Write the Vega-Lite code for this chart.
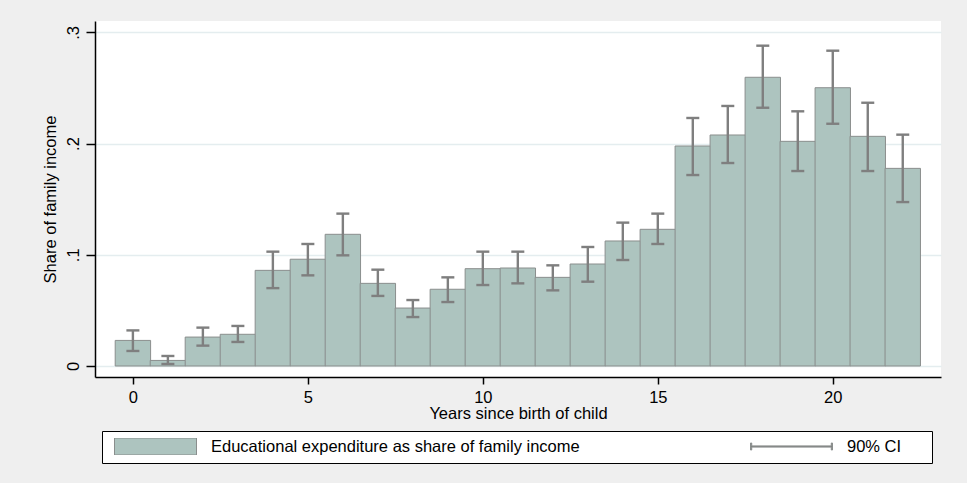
{
  "$schema": "https://vega.github.io/schema/vega-lite/v6.json",
  "width": 846,
  "height": 356,
  "autosize": {"type": "none"},
  "padding": {"left": 95, "top": 21, "right": 26, "bottom": 106},
  "background": "#efefef",
  "config": {
    "view": {"fill": "white", "stroke": null},
    "font": "Liberation Sans",
    "axis": {
      "labelFont": "Liberation Sans",
      "titleFont": "Liberation Sans",
      "labelFontSize": 16.5,
      "titleFontSize": 16.5,
      "labelColor": "#000000",
      "titleColor": "#000000",
      "titleFontWeight": "normal",
      "domainColor": "#000000",
      "domainWidth": 1.5,
      "tickColor": "#000000",
      "tickWidth": 1.5
    }
  },
  "data": {
    "values": [
      {"year": 0, "share": 0.023, "lo": 0.0135, "hi": 0.032, "series": "Educational expenditure as share of family income"},
      {"year": 1, "share": 0.005, "lo": 0.0018, "hi": 0.009, "series": "Educational expenditure as share of family income"},
      {"year": 2, "share": 0.026, "lo": 0.0183, "hi": 0.0345, "series": "Educational expenditure as share of family income"},
      {"year": 3, "share": 0.0285, "lo": 0.0216, "hi": 0.036, "series": "Educational expenditure as share of family income"},
      {"year": 4, "share": 0.086, "lo": 0.070, "hi": 0.1028, "series": "Educational expenditure as share of family income"},
      {"year": 5, "share": 0.096, "lo": 0.0815, "hi": 0.1097, "series": "Educational expenditure as share of family income"},
      {"year": 6, "share": 0.1184, "lo": 0.0995, "hi": 0.137, "series": "Educational expenditure as share of family income"},
      {"year": 7, "share": 0.0743, "lo": 0.063, "hi": 0.0866, "series": "Educational expenditure as share of family income"},
      {"year": 8, "share": 0.0521, "lo": 0.044, "hi": 0.0593, "series": "Educational expenditure as share of family income"},
      {"year": 9, "share": 0.069, "lo": 0.0575, "hi": 0.0797, "series": "Educational expenditure as share of family income"},
      {"year": 10, "share": 0.0875, "lo": 0.0728, "hi": 0.1028, "series": "Educational expenditure as share of family income"},
      {"year": 11, "share": 0.0881, "lo": 0.0743, "hi": 0.1028, "series": "Educational expenditure as share of family income"},
      {"year": 12, "share": 0.0797, "lo": 0.068, "hi": 0.0905, "series": "Educational expenditure as share of family income"},
      {"year": 13, "share": 0.0917, "lo": 0.0758, "hi": 0.107, "series": "Educational expenditure as share of family income"},
      {"year": 14, "share": 0.1124, "lo": 0.0953, "hi": 0.1289, "series": "Educational expenditure as share of family income"},
      {"year": 15, "share": 0.1229, "lo": 0.1097, "hi": 0.137, "series": "Educational expenditure as share of family income"},
      {"year": 16, "share": 0.1978, "lo": 0.1717, "hi": 0.223, "series": "Educational expenditure as share of family income"},
      {"year": 17, "share": 0.2077, "lo": 0.1825, "hi": 0.2338, "series": "Educational expenditure as share of family income"},
      {"year": 18, "share": 0.2596, "lo": 0.2322, "hi": 0.288, "series": "Educational expenditure as share of family income"},
      {"year": 19, "share": 0.202, "lo": 0.1753, "hi": 0.229, "series": "Educational expenditure as share of family income"},
      {"year": 20, "share": 0.2502, "lo": 0.2178, "hi": 0.2835, "series": "Educational expenditure as share of family income"},
      {"year": 21, "share": 0.2065, "lo": 0.1753, "hi": 0.2367, "series": "Educational expenditure as share of family income"},
      {"year": 22, "share": 0.1777, "lo": 0.1474, "hi": 0.208, "series": "Educational expenditure as share of family income"}
    ]
  },
  "layer": [
    {
      "mark": {"type": "bar", "width": 35.4, "stroke": "#8a8e8d"},
      "encoding": {
        "x": {
          "field": "year", "type": "quantitative",
          "scale": {"domain": [-0.94, 22.95], "nice": false, "zero": false},
          "axis": {
            "values": [0, 5, 10, 15, 20], "format": "d", "grid": false,
            "title": "Years since birth of child",
            "tickSize": 7, "labelPadding": 5, "titlePadding": 0,
            "labelBaseline": "top"
          }
        },
        "y": {
          "field": "share", "type": "quantitative",
          "scale": {"domain": [-0.0099, 0.3102], "nice": false, "zero": false},
          "axis": {
            "values": [0, 0.1, 0.2, 0.3],
            "labelExpr": "datum.value == 0 ? '0' : replace(format(datum.value, '.1f'), '0.', '.')",
            "title": "Share of family income",
            "grid": true, "gridColor": "#e4edef", "gridWidth": 1.5,
            "tickSize": 9, "labelPadding": 8, "labelAngle": -90,
            "labelAlign": "center", "labelBaseline": "alphabetic",
            "titlePadding": 7
          }
        },
        "y2": {"datum": 0},
        "color": {
          "field": "series", "type": "nominal",
          "scale": {"domain": ["Educational expenditure as share of family income", "90% CI"], "range": ["#adc4bf", "#808080"]},
          "legend": {
            "orient": "none", "legendX": 7, "legendY": 410,
            "direction": "horizontal", "columns": 2, "columnPadding": 165,
            "title": " ", "titleOrient": "right", "titlePadding": 24,
            "titleFontSize": 16.5, "titleFont": "Liberation Sans",
            "fillColor": "white", "strokeColor": "#000000",
            "padding": 7, "symbolOffset": 5, "labelOffset": 14,
            "clipHeight": 17, "symbolSize": 6724, "symbolStrokeWidth": 1,
            "symbolType": {"expr": "datum.value === '90% CI' ? 'M-1,-0.085H-0.97V-0.0146H0.97V-0.085H1V0.085H0.97V0.0146H-0.97V0.085H-1Z' : 'M-1,-0.2073H1V0.2073H-1Z'"},
            "labelFont": "Liberation Sans", "labelFontSize": 16.5, "labelColor": "#000000",
            "labelLimit": 600
          }
        }
      }
    },
    {
      "mark": {"type": "rule", "color": "#7f7f7f", "strokeWidth": 2.4},
      "encoding": {
        "x": {"field": "year", "type": "quantitative"},
        "y": {"field": "lo", "type": "quantitative"},
        "y2": {"field": "hi"}
      }
    },
    {
      "mark": {"type": "tick", "orient": "horizontal", "color": "#7f7f7f", "size": 13, "thickness": 2.4, "opacity": 1},
      "encoding": {
        "x": {"field": "year", "type": "quantitative"},
        "y": {"field": "lo", "type": "quantitative"}
      }
    },
    {
      "mark": {"type": "tick", "orient": "horizontal", "color": "#7f7f7f", "size": 13, "thickness": 2.4, "opacity": 1},
      "encoding": {
        "x": {"field": "year", "type": "quantitative"},
        "y": {"field": "hi", "type": "quantitative"}
      }
    }
  ]
}
